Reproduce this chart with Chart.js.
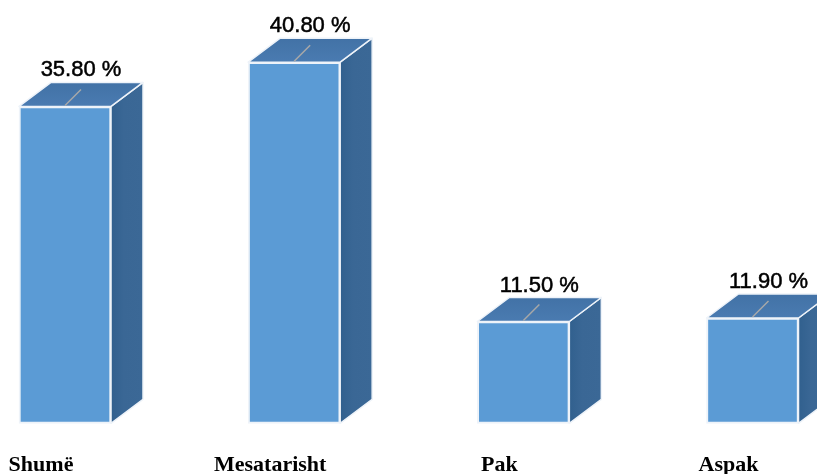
<!DOCTYPE html>
<html>
<head>
<meta charset="utf-8">
<script src="https://cdn.jsdelivr.net/npm/chart.js@4.4.0/dist/chart.umd.min.js"></script>
<style>
  html, body { margin: 0; padding: 0; background: #fff; }
</style>
</head>
<body>
<canvas id="chart" width="817" height="474"></canvas>
<script>
const categories = ['Shumë', 'Mesatarisht', 'Pak', 'Aspak'];
const percentages = [35.8, 40.8, 11.5, 11.9];

// fake 3d depth of each box, in pixels
const DX = 32;
const DY = 24;

const box3d = {
  id: 'box3d',
  beforeDatasetsDraw(chart) {
    const ctx = chart.ctx;
    chart.getDatasetMeta(0).data.forEach((bar) => {
      const { x, y, base, width } = bar.getProps(['x', 'y', 'base', 'width'], true);
      const r = x + width / 2;
      const l = x - width / 2;
      ctx.save();
      ctx.lineJoin = 'round';
      ctx.lineWidth = 1.5;
      ctx.strokeStyle = '#eef3f9';

      // right side
      const side = ctx.createLinearGradient(r, 0, r + DX, 0);
      side.addColorStop(0, '#31608e');
      side.addColorStop(0.4, '#3a6795');
      side.addColorStop(1, '#3b6896');
      ctx.fillStyle = side;
      ctx.beginPath();
      ctx.moveTo(r, y);
      ctx.lineTo(r + DX, y - DY);
      ctx.lineTo(r + DX, base - DY);
      ctx.lineTo(r, base);
      ctx.closePath();
      ctx.fill();
      ctx.stroke();

      // top face
      const top = ctx.createLinearGradient(0, y - DY, 0, y);
      top.addColorStop(0, '#4272a6');
      top.addColorStop(1, '#4a7bb1');
      ctx.fillStyle = top;
      ctx.beginPath();
      ctx.moveTo(l, y);
      ctx.lineTo(l + DX, y - DY);
      ctx.lineTo(r + DX, y - DY);
      ctx.lineTo(r, y);
      ctx.closePath();
      ctx.fill();
      ctx.stroke();
      ctx.restore();
    });
  },
  afterDatasetsDraw(chart) {
    const ctx = chart.ctx;
    const values = chart.data.datasets[0].data;
    chart.getDatasetMeta(0).data.forEach((bar, i) => {
      const { x, y } = bar.getProps(['x', 'y'], true);
      ctx.save();
      // leader line
      ctx.strokeStyle = '#a8a8a8';
      ctx.lineWidth = 1.5;
      ctx.beginPath();
      ctx.moveTo(x, y - 1);
      ctx.lineTo(x + DX / 2, y - 17);
      ctx.stroke();
      // value label
      const text = values[i].toFixed(2) + ' %';
      ctx.fillStyle = '#000';
      ctx.strokeStyle = '#000';
      ctx.lineWidth = 0.5;
      ctx.font = '22px "Liberation Sans", Arial, sans-serif';
      ctx.textAlign = 'center';
      ctx.textBaseline = 'alphabetic';
      ctx.fillText(text, x + DX / 2, y - DY - 6);
      ctx.strokeText(text, x + DX / 2, y - DY - 6);
      ctx.restore();
    });
  }
};

new Chart(document.getElementById('chart'), {
  type: 'bar',
  data: {
    labels: categories,
    datasets: [
      {
        data: percentages,
        backgroundColor: (c) => {
          const { ctx, chartArea } = c.chart;
          if (!chartArea) return '#5b9bd5';
          const el = c.element;
          if (!el || el.x === undefined) return '#5b9bd5';
          const g = ctx.createLinearGradient(el.x - 46, 0, el.x + 46, 0);
          g.addColorStop(0, '#5592cf');
          g.addColorStop(0.5, '#62a1db');
          g.addColorStop(1, '#5797d3');
          return g;
        },
        borderColor: '#eef3f9',
        borderWidth: 2,
        borderSkipped: false,
        barThickness: 92,
        clip: false,
      },
    ],
  },
  options: {
    responsive: false,
    animation: false,
    layout: {
      padding: { left: 65, right: 64.5, top: 0, bottom: 0 },
    },
    scales: {
      x: {
        offset: false,
        grid: { display: false, drawTicks: false },
        border: { display: false },
        ticks: {
          color: '#000',
          font: { family: '"Liberation Serif", "Times New Roman", serif', size: 22, weight: 'bold' },
          padding: 29,
          labelOffset: -24,
          maxRotation: 0,
          autoSkip: false,
        },
        afterFit(scale) {
          scale.height = 50.7;
        },
      },
      y: {
        display: false,
        min: 0,
        max: 47.83,
      },
    },
    plugins: {
      legend: { display: false },
      tooltip: { enabled: false },
    },
  },
  plugins: [box3d],
});
</script>
</body>
</html>
